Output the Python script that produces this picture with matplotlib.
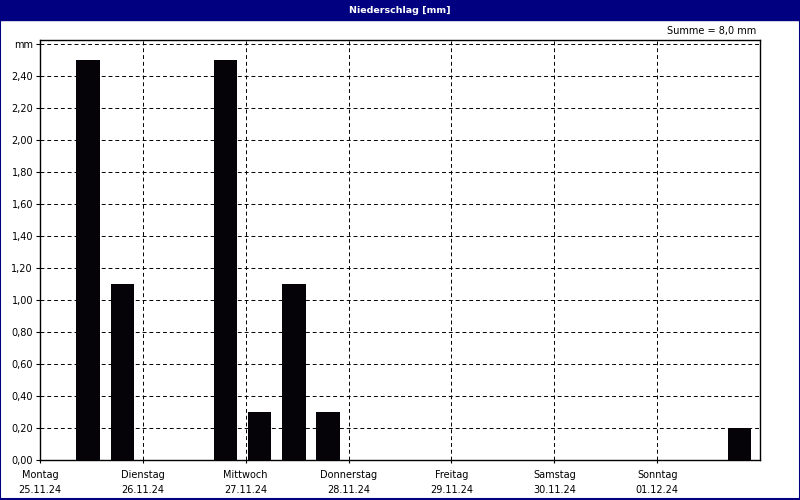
import matplotlib
matplotlib.use("Agg")
import matplotlib.pyplot as plt
from matplotlib.patches import Rectangle

# Niederschlag je 8-Stunden-Intervall, Start in Stunden ab Montag 00:00
stunden = [8, 16, 40, 48, 56, 64, 160]
werte = [2.5, 1.1, 2.5, 0.3, 1.1, 0.3, 0.2]
tage = ["Montag", "Dienstag", "Mittwoch", "Donnerstag", "Freitag", "Samstag", "Sonntag"]
daten = ["25.11.24", "26.11.24", "27.11.24", "28.11.24", "29.11.24", "30.11.24", "01.12.24"]
yticks = [0.0, 0.2, 0.4, 0.6, 0.8, 1.0, 1.2, 1.4, 1.6, 1.8, 2.0, 2.2, 2.4, 2.6]

plt.rcParams['font.family'] = ['DejaVu Sans']
fig = plt.figure(figsize=(8, 5), dpi=100)
fig.patch.set_facecolor("white")

# Fensterrahmen und Titelleiste
navy = "#000080"
fig.add_artist(Rectangle((0, 0.96), 1, 0.04, transform=fig.transFigure, color=navy, zorder=0))
fig.add_artist(Rectangle((0.0006, 0.002), 0.9988, 0.996, transform=fig.transFigure,
                         fill=False, edgecolor=navy, lw=1.5, zorder=0))
fig.text(0.5, 0.979, "Niederschlag [mm]", color="white", fontsize=6.8, fontweight="bold",
         ha="center", va="center")

ax = fig.add_axes([0.05, 0.08, 0.90, 0.84])
ax.bar([s + 0.5 for s in stunden], werte, width=5.5, align="edge", color="#050308", zorder=3)

ax.set_xlim(0, 168)
ax.set_ylim(0, 2.625)

ax.set_yticks(yticks)
ax.set_yticklabels([("%.2f" % v).replace(".", ",") for v in yticks[:-1]] + ["mm"], fontsize=7)
ax.set_xticks([24 * i for i in range(7)])
ax.set_xticklabels([t + "\n" + d for t, d in zip(tage, daten)], fontsize=7, linespacing=1.7)
ax.tick_params(axis="y", length=3, width=0.8, pad=2)
ax.tick_params(axis="x", length=2, width=0.8, pad=5)

ax.grid(True, color="black", linestyle=(0, (4, 3)), linewidth=0.7, zorder=1)
for sp in ax.spines.values():
    sp.set_linewidth(1)

fig.text(0.945, 0.938, "Summe = 8,0 mm", fontsize=7, ha="right", va="center")

fig.savefig("out.png", dpi=100)
